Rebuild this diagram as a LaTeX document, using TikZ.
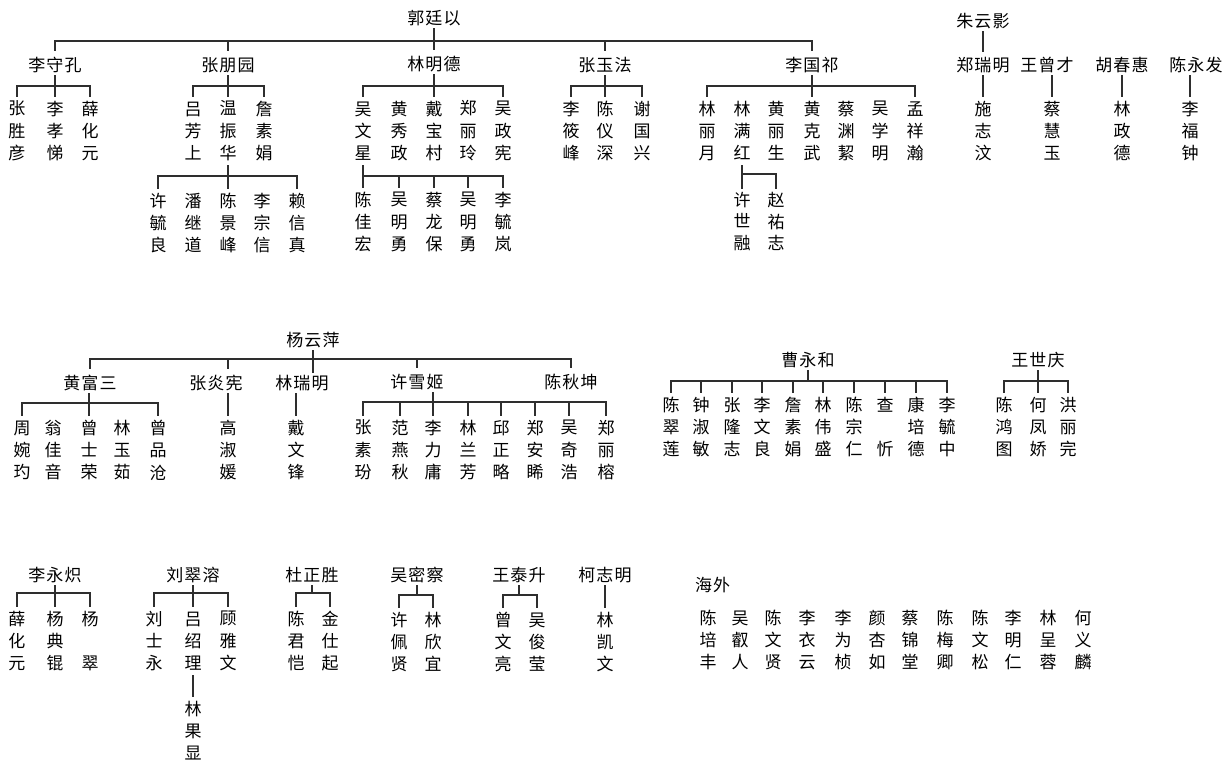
\documentclass[tikz,border=0pt]{standalone}
\usepackage{fontspec}
\newfontfamily\cjk[LetterSpace=6]{Noto Sans CJK SC}
\newcommand\cs{\rule[-1.2pt]{0pt}{15.3pt}}
\newcommand\V[3]{\cs#1\\\cs#2\\\cs#3}
\begin{document}
\begin{tikzpicture}[x=1pt,y=-1pt,
  ln/.style={line width=2pt, draw=black!82},
  tn/.style={ln, shorten <=4pt, shorten >=4pt},
  dn/.style={ln, shorten >=4pt},
  nm/.style={font=\cjk\fontsize{17}{20}\selectfont, inner sep=0pt, outer xsep=0pt, outer ysep=2.5pt, text height=14.1pt, text depth=1.2pt},
  vn/.style={font=\cjk\fontsize{17}{22.4}\selectfont, align=center, inner sep=0pt, outer ysep=4pt},
  vt/.style={font=\cjk\fontsize{17}{21.5}\selectfont, align=center, inner sep=0pt, outer ysep=3pt}]
\fill[white] (0,0) rectangle (1226,764);
\useasboundingbox (0,0) rectangle (1226,764);

% ================= TOP TREE =================
\node[nm] (g0) at (434,18) {郭廷以};
\node[nm] (g1) at (55,65) {李守孔};
\node[nm] (g2) at (228,65) {张朋园};
\node[nm] (g3) at (434,64) {林明德};
\node[nm] (g4) at (605,65) {张玉法};
\node[nm] (g5) at (812,65) {李国祁};
\coordinate (b0) at (0,41);
\draw[ln] (g0.south) -- (g0.south |- b0);
\draw[tn] (g1.north) -- (g1.north |- b0) -- (g5.north |- b0) -- (g5.north);
\draw[dn] (g2.north |- b0) -- (g2.north);
\draw[dn] (g3.north |- b0) -- (g3.north);
\draw[dn] (g4.north |- b0) -- (g4.north);

% 李守孔
\node[vn] (a1) at (17,131) {\V{张}{胜}{彦}};
\node[vn] (a2) at (55,131) {\V{李}{孝}{悌}};
\node[vn] (a3) at (90,131) {\V{薛}{化}{元}};
\coordinate (b1) at (0,86);
\draw[ln] (g1.south) -- (g1.south |- b1);
\draw[ln] (a1.north) -- (a1.north |- b1) -- (a3.north |- b1) -- (a3.north);
\draw[ln] (a2.north |- b1) -- (a2.north);

% 张朋园
\node[vn] (b1n) at (193,131) {\V{吕}{芳}{上}};
\node[vn] (b2n) at (228,131) {\V{温}{振}{华}};
\node[vn] (b3n) at (264,131) {\V{詹}{素}{娟}};
\draw[ln] (g2.south) -- (g2.south |- b1);
\draw[ln] (b1n.north) -- (b1n.north |- b1) -- (b3n.north |- b1) -- (b3n.north);
\draw[ln] (b2n.north |- b1) -- (b2n.north);

% 温振华
\node[vn] (c1) at (158,223) {\V{许}{毓}{良}};
\node[vn] (c2) at (193,223) {\V{潘}{继}{道}};
\node[vn] (c3) at (228,223) {\V{陈}{景}{峰}};
\node[vn] (c4) at (262,223) {\V{李}{宗}{信}};
\node[vn] (c5) at (297,223) {\V{赖}{信}{真}};
\coordinate (b2) at (0,176);
\draw[ln] (b2n.south) -- (b2n.south |- b2);
\draw[ln] (c1.north) -- (c1.north |- b2) -- (c5.north |- b2) -- (c5.north);
\draw[ln] (c3.north |- b2) -- (c3.north);

% 林明德
\node[vn] (d1) at (363,131) {\V{吴}{文}{星}};
\node[vn] (d2) at (399,131) {\V{黄}{秀}{政}};
\node[vn] (d3) at (434,131) {\V{戴}{宝}{村}};
\node[vn] (d4) at (468,131) {\V{郑}{丽}{玲}};
\node[vn] (d5) at (503,131) {\V{吴}{政}{宪}};
\draw[ln] (g3.south) -- (g3.south |- b1);
\draw[ln] (d1.north) -- (d1.north |- b1) -- (d5.north |- b1) -- (d5.north);
\draw[ln] (d3.north |- b1) -- (d3.north);

% 吴文星
\node[vn] (e1) at (363,222) {\V{陈}{佳}{宏}};
\node[vn] (e2) at (399,222) {\V{吴}{明}{勇}};
\node[vn] (e3) at (434,222) {\V{蔡}{龙}{保}};
\node[vn] (e4) at (468,222) {\V{吴}{明}{勇}};
\node[vn] (e5) at (503,222) {\V{李}{毓}{岚}};
\draw[ln] (d1.south) -- (d1.south |- b2);
\draw[ln] (e1.north) -- (e1.north |- b2) -- (e5.north |- b2) -- (e5.north);
\draw[ln] (e2.north |- b2) -- (e2.north);
\draw[ln] (e3.north |- b2) -- (e3.north);
\draw[ln] (e4.north |- b2) -- (e4.north);

% 张玉法
\node[vn] (f1) at (571,131) {\V{李}{筱}{峰}};
\node[vn] (f2) at (605,131) {\V{陈}{仪}{深}};
\node[vn] (f3) at (642,131) {\V{谢}{国}{兴}};
\draw[ln] (g4.south) -- (g4.south |- b1);
\draw[ln] (f1.north) -- (f1.north |- b1) -- (f3.north |- b1) -- (f3.north);
\draw[ln] (f2.north |- b1) -- (f2.north);

% 李国祁
\node[vn] (h1) at (707,131) {\V{林}{丽}{月}};
\node[vn] (h2) at (742,131) {\V{林}{满}{红}};
\node[vn] (h3) at (776,131) {\V{黄}{丽}{生}};
\node[vn] (h4) at (812,131) {\V{黄}{克}{武}};
\node[vn] (h5) at (846,131) {\V{蔡}{渊}{絜}};
\node[vn] (h6) at (880,131) {\V{吴}{学}{明}};
\node[vn] (h7) at (915,131) {\V{孟}{祥}{瀚}};
\draw[ln] (g5.south) -- (g5.south |- b1);
\draw[ln] (h1.north) -- (h1.north |- b1) -- (h7.north |- b1) -- (h7.north);
\draw[ln] (h4.north |- b1) -- (h4.north);

% 林满红
\node[vt] (i1) at (742,221.5) {\V{许}{世}{融}};
\node[vt] (i2) at (776,221.5) {\V{赵}{祐}{志}};
\coordinate (b3) at (0,174);
\draw[ln] (h2.south) -- (i1.north);
\draw[ln] (h2.south |- b3) -- (i2.north |- b3) -- (i2.north);

% 朱云影 etc.
\node[nm] (z0) at (983,21) {朱云影};
\node[nm] (z1) at (983,65) {郑瑞明};
\node[vn] (z2) at (983,131) {\V{施}{志}{汶}};
\draw[ln, shorten >=3pt] (z0) -- (z1);
\draw[ln] (z1) -- (z2);
\node[nm] (w1) at (1047,65) {王曾才};
\node[vn] (w2) at (1052,131) {\V{蔡}{慧}{玉}};
\draw[ln] (w2.north |- w1.south) -- (w2.north);
\node[nm] (k1) at (1122,65) {胡春惠};
\node[vn] (k2) at (1122,131) {\V{林}{政}{德}};
\draw[ln] (k1) -- (k2);
\node[nm] (y1) at (1196,65) {陈永发};
\node[vn] (y2) at (1190,131) {\V{李}{福}{钟}};
\draw[ln] (y2.north |- y1.south) -- (y2.north);

% ================= MIDDLE TREE =================
\node[nm] (m0) at (313,340) {杨云萍};
\node[nm] (m1) at (90,383) {黄富三};
\node[nm] (m2) at (216,383) {张炎宪};
\node[nm] (m3) at (302,383) {林瑞明};
\node[nm] (m4) at (417,382) {许雪姬};
\node[nm] (m5) at (571,382) {陈秋坤};
\node[vn] (q1) at (228,450) {\V{高}{淑}{媛}};
\node[vn] (q2) at (296,450) {\V{戴}{文}{锋}};
\coordinate (bm) at (0,359);
\draw[ln] (m0.south) -- (m0.south |- m3.north);
\draw[tn] (m1.north) -- (m1.north |- bm) -- (m5.north |- bm) -- (m5.north);
\draw[dn] (q1.north |- bm) -- (q1.north |- m2.north);
\draw[dn] (m4.north |- bm) -- (m4.north);
\draw[ln] (q1.north |- m2.south) -- (q1.north);
\draw[ln] (q2.north |- m3.south) -- (q2.north);

% 黄富三
\node[vn] (n1) at (22,450) {\V{周}{婉}{玓}};
\node[vn] (n2) at (53,450) {\V{翁}{佳}{音}};
\node[vn] (n3) at (89,450) {\V{曾}{士}{荣}};
\node[vn] (n4) at (122,450) {\V{林}{玉}{茹}};
\node[vn] (n5) at (158,450) {\V{曾}{品}{沧}};
\coordinate (bn) at (0,403);
\draw[ln] (n3.north |- m1.south) -- (n3.north |- bn);
\draw[ln] (n1.north) -- (n1.north |- bn) -- (n5.north |- bn) -- (n5.north);
\draw[ln] (n3.north |- bn) -- (n3.north);

% 许雪姬
\node[vn] (x1) at (363,450) {\V{张}{素}{玢}};
\node[vn] (x2) at (400,450) {\V{范}{燕}{秋}};
\node[vn] (x3) at (433,450) {\V{李}{力}{庸}};
\node[vn] (x4) at (468,450) {\V{林}{兰}{芳}};
\node[vn] (x5) at (501,450) {\V{邱}{正}{略}};
\node[vn] (x6) at (535,450) {\V{郑}{安}{睎}};
\node[vn] (x7) at (569,450) {\V{吴}{奇}{浩}};
\node[vn] (x8) at (606,450) {\V{郑}{丽}{榕}};
\coordinate (bx) at (0,402);
\draw[ln] (x3.north |- m4.south) -- (x3.north |- bx);
\draw[ln] (x1.north) -- (x1.north |- bx) -- (x8.north |- bx) -- (x8.north);
\foreach \c in {x2,x3,x4,x5,x6,x7} \draw[ln] (\c.north |- bx) -- (\c.north);

% 曹永和
\node[nm] (s0) at (808,360) {曹永和};
\node[vn] (s1) at (671,427) {\V{陈}{翠}{莲}};
\node[vn] (s2) at (701,427) {\V{钟}{淑}{敏}};
\node[vn] (s3) at (732,427) {\V{张}{隆}{志}};
\node[vn] (s4) at (762,427) {\V{李}{文}{良}};
\node[vn] (s5) at (793,427) {\V{詹}{素}{娟}};
\node[vn] (s6) at (823,427) {\V{林}{伟}{盛}};
\node[vn] (s7) at (854,427) {\V{陈}{宗}{仁}};
\node[vn] (s8) at (885,427) {\V{查}{}{忻}};
\node[vn] (s9) at (916,427) {\V{康}{培}{德}};
\node[vn] (s10) at (947,427) {\V{李}{毓}{中}};
\coordinate (bs) at (0,381);
\draw[ln] (s0.south) -- (s0.south |- bs);
\draw[ln] (s1.north) -- (s1.north |- bs) -- (s10.north |- bs) -- (s10.north);
\foreach \c in {s2,s3,s4,s5,s6,s7,s8,s9} \draw[ln] (\c.north |- bs) -- (\c.north);

% 王世庆
\node[nm] (t0) at (1038,360) {王世庆};
\node[vn] (t1) at (1004,427) {\V{陈}{鸿}{图}};
\node[vn] (t2) at (1038,427) {\V{何}{凤}{娇}};
\node[vn] (t3) at (1068,427) {\V{洪}{丽}{完}};
\draw[ln] (t0.south) -- (t0.south |- bs);
\draw[ln] (t1.north) -- (t1.north |- bs) -- (t3.north |- bs) -- (t3.north);
\draw[ln] (t2.north |- bs) -- (t2.north);

% ================= BOTTOM =================
\coordinate (bu) at (0,593);
\coordinate (bw) at (0,595);
% 李永炽
\node[nm] (u0) at (55,575) {李永炽};
\node[vn] (u1) at (17,641) {\V{薛}{化}{元}};
\node[vn] (u2) at (55,641) {\V{杨}{典}{锟}};
\node[vn] (u3) at (90,641) {\V{杨}{}{翠}};
\draw[ln] (u0.south) -- (u0.south |- bu);
\draw[ln] (u1.north) -- (u1.north |- bu) -- (u3.north |- bu) -- (u3.north);
\draw[ln] (u2.north |- bu) -- (u2.north);

% 刘翠溶
\node[nm] (v0) at (193,575) {刘翠溶};
\node[vn] (v1) at (154,641) {\V{刘}{士}{永}};
\node[vn] (v2) at (193,641) {\V{吕}{绍}{理}};
\node[vn] (v3) at (228,641) {\V{顾}{雅}{文}};
\node[vn] (v4) at (193,731) {\V{林}{果}{显}};
\draw[ln] (v0.south) -- (v0.south |- bu);
\draw[ln] (v1.north) -- (v1.north |- bu) -- (v3.north |- bu) -- (v3.north);
\draw[ln] (v2.north |- bu) -- (v2.north);
\draw[ln] (v2) -- (v4);

% 杜正胜
\node[nm] (p0) at (312,575) {杜正胜};
\node[vn] (p1) at (296,641) {\V{陈}{君}{恺}};
\node[vn] (p2) at (330,641) {\V{金}{仕}{起}};
\draw[ln] (p0.south) -- (p0.south |- bu);
\draw[ln] (p1.north) -- (p1.north |- bu) -- (p2.north |- bu) -- (p2.north);

% 吴密察
\node[nm] (r0) at (417,575) {吴密察};
\node[vn] (r1) at (399,642) {\V{许}{佩}{贤}};
\node[vn] (r2) at (433,642) {\V{林}{欣}{宜}};
\draw[ln] (r0.south) -- (r0.south |- bw);
\draw[ln] (r1.north) -- (r1.north |- bw) -- (r2.north |- bw) -- (r2.north);

% 王泰升
\node[nm] (o0) at (519,575) {王泰升};
\node[vn] (o1) at (503,642) {\V{曾}{文}{亮}};
\node[vn] (o2) at (537,642) {\V{吴}{俊}{莹}};
\draw[ln] (o0.south) -- (o0.south |- bw);
\draw[ln] (o1.north) -- (o1.north |- bw) -- (o2.north |- bw) -- (o2.north);

% 柯志明
\node[nm] (l0) at (605,575) {柯志明};
\node[vn] (l1) at (605,642) {\V{林}{凯}{文}};
\draw[ln] (l0) -- (l1);

% 海外
\node[nm, anchor=west] (hw) at (695,585) {海外};
\node[vn] (ov1) at (708,640) {\V{陈}{培}{丰}};
\node[vn] (ov2) at (740,640) {\V{吴}{叡}{人}};
\node[vn] (ov3) at (773,640) {\V{陈}{文}{贤}};
\node[vn] (ov4) at (807,640) {\V{李}{衣}{云}};
\node[vn] (ov5) at (843,640) {\V{李}{为}{桢}};
\node[vn] (ov6) at (877,640) {\V{颜}{杏}{如}};
\node[vn] (ov7) at (910,640) {\V{蔡}{锦}{堂}};
\node[vn] (ov8) at (945,640) {\V{陈}{梅}{卿}};
\node[vn] (ov9) at (980,640) {\V{陈}{文}{松}};
\node[vn] (ov10) at (1013,640) {\V{李}{明}{仁}};
\node[vn] (ov11) at (1048,640) {\V{林}{呈}{蓉}};
\node[vn] (ov12) at (1083,640) {\V{何}{义}{麟}};
\end{tikzpicture}
\end{document}
